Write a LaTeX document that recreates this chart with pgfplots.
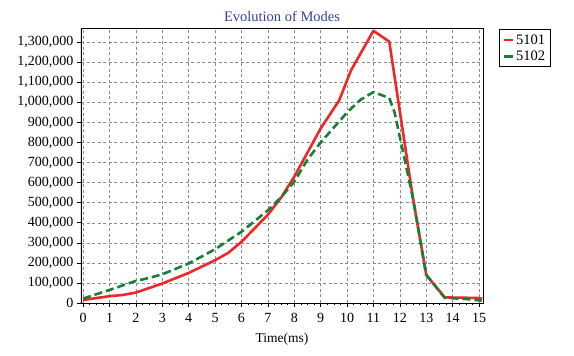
\documentclass[border=0pt]{standalone}
\usepackage{fontspec}
\setmainfont{Liberation Serif}
\usepackage{pgfplots}
\pgfplotsset{compat=1.18}
\definecolor{redline}{RGB}{238,40,40}
\definecolor{greenline}{RGB}{22,128,58}
\definecolor{titleblue}{RGB}{55,65,160}
\definecolor{gridgray}{RGB}{140,140,140}
\begin{document}
\begin{tikzpicture}[x=1pt,y=1pt]
\path[use as bounding box, fill=white] (0,0) rectangle (574,356);
\begin{axis}[
  at={(81pt,53pt)}, anchor=south west,
  scale only axis, width=402pt, height=275pt,
  xmin=-0.08, xmax=15.15, ymin=0, ymax=1371000,
  xtick={0,1,...,15},
  ytick={0,100000,...,1300000},
  minor x tick num=3,
  scaled y ticks=false,
  /pgf/number format/.cd, fixed, 1000 sep={,}, assume math mode=true,
  /pgfplots/.cd,
  tick align=outside,
  major tick length=4pt, minor tick length=2.5pt,
  tick style={black, line width=0.6pt},
  xtick pos=bottom, ytick pos=left,
  grid=major,
  major grid style={dashed, gridgray, line width=0.5pt, dash pattern=on 3pt off 2.5pt},
  axis line style={black, line width=0.9pt},
  tick label style={font=\fontsize{14}{16}\selectfont, black},
  xticklabel style={yshift=-3pt},
  xlabel={Time(ms)},
  xlabel style={font=\fontsize{13.5}{15}\selectfont, yshift=-3pt},
  title={Evolution of Modes},
  title style={font=\fontsize{14.5}{17}\selectfont, text=titleblue, yshift=-3pt},
  legend style={at={(1.04,0.996)}, anchor=north west, draw=black, line width=0.9pt,
    font=\fontsize{14.5}{17}\selectfont, inner sep=3pt, row sep=1pt},
  legend cell align=left,
  legend image code/.code={\draw[#1, solid, line width=2.6pt] (0pt,0pt) -- (9pt,0pt);},
]
\addplot[redline, line width=2.6pt, line join=round] coordinates {
(0,15000)(1,34000)(1.5,40000)(2,52000)(3,97000)(4,150000)(5,213000)(5.5,250000)
(6,305000)(7,440000)(7.5,525000)(8,630000)(9,870000)(9.7,1010000)(10.15,1160000)
(11,1357000)(11.6,1303000)(12.5,520000)(13,140000)(13.7,28000)(14,27000)
(15,25000)(15.12,20000)};
\addlegendentry{5101}
\addplot[greenline, line width=2.6pt, dash pattern=on 8pt off 4pt, line join=round] coordinates {
(0,22000)(1,65000)(2,110000)(2.5,125000)(3,143000)(4,197000)(5,268000)(6,355000)
(7,462000)(7.5,527000)(8,605000)(8.5,715000)(9,800000)(10,950000)(10.5,1012000)
(11,1052000)(11.6,1022000)(11.8,950000)(12.5,520000)(13,140000)(13.7,26000)
(14.5,20000)(15.1,12000)};
\addlegendentry{5102}
\draw[black, line width=2.2pt] (rel axis cs:0,0) -- (rel axis cs:0,1);
\end{axis}
\end{tikzpicture}
\end{document}
